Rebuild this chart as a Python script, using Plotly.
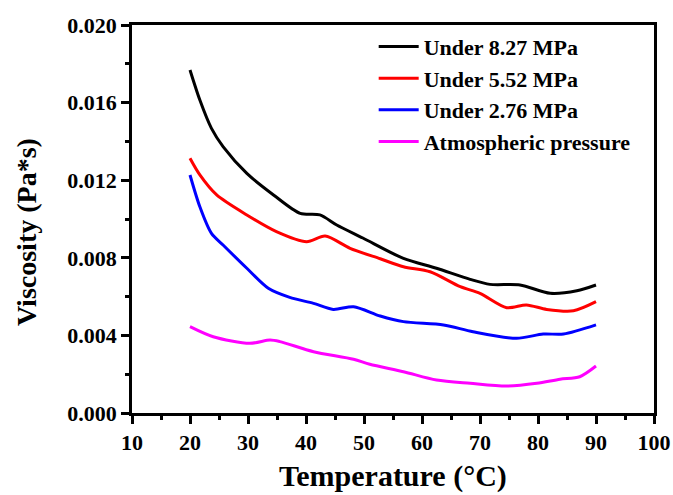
import plotly.graph_objects as go

# Data
t_827 = [20, 21.7, 23.7, 25.7, 29.8, 34.4, 39, 42.4, 45.3, 49.8, 56.8, 62.5, 68.3, 71.7, 76.9, 82.1, 86.7, 90]
v_827 = [0.01768, 0.01613, 0.01467, 0.01373, 0.01235, 0.01124, 0.01029, 0.01021, 0.00969, 0.00902,
         0.00797, 0.00746, 0.00689, 0.00663, 0.0066, 0.00617, 0.0063, 0.0066]

t_552 = [20, 21.7, 24.6, 29.8, 34.9, 40.1, 43.3, 47.6, 52.8, 56.8, 61.4, 66.6, 70, 74.6, 78, 81.5, 86.1, 90]
v_552 = [0.01313, 0.01227, 0.01124, 0.01021, 0.00935, 0.00883, 0.00912, 0.00849, 0.00795, 0.00754,
         0.00728, 0.00651, 0.00617, 0.00543, 0.00557, 0.00534, 0.00527, 0.00574]

t_276 = [20, 21.7, 23.7, 25.7, 29.8, 33.5, 37.2, 41.3, 44.7, 48.2, 52.8, 56.8, 63.7, 68.8, 76.3, 80.9, 84.4, 90]
v_276 = [0.01227, 0.01063, 0.00926, 0.00866, 0.00746, 0.00643, 0.00596, 0.00565, 0.00534, 0.00548,
         0.005, 0.00471, 0.00454, 0.00419, 0.00385, 0.00407, 0.00407, 0.00454]

t_atm = [20, 24, 30.3, 33.8, 35.5, 41.3, 48.2, 51, 56.8, 62.5, 68.3, 74.6, 79.8, 83.8, 87.2, 90]
v_atm = [0.00445, 0.00393, 0.00359, 0.00376, 0.00368, 0.00316, 0.00277, 0.00251, 0.00213, 0.0017,
         0.00153, 0.00139, 0.00153, 0.00174, 0.00187, 0.00242]

series = [
    ("Under 8.27 MPa", t_827, v_827, "#000000"),
    ("Under 5.52 MPa", t_552, v_552, "#ff0000"),
    ("Under 2.76 MPa", t_276, v_276, "#0000ff"),
    ("Atmospheric pressure", t_atm, v_atm, "#ff00ff"),
]

x_ticks = [10, 20, 30, 40, 50, 60, 70, 80, 90, 100]
y_ticks = [0.000, 0.004, 0.008, 0.012, 0.016, 0.020]

x_title = "Temperature (°C)"
y_title = "Viscosity (Pa*s)"

FONT = "Liberation Serif"

fig = go.Figure()
for name, xs, ys, col in series:
    fig.add_trace(go.Scatter(x=xs, y=ys, name=name, mode="lines",
                             line=dict(color=col, width=3, shape="spline", smoothing=0.8)))

fig.update_layout(
    width=673, height=495,
    margin=dict(l=132, r=19, t=25, b=82),
    paper_bgcolor="white", plot_bgcolor="white",
    font=dict(family=FONT, color="black"),
    legend=dict(x=0.463, y=0.998, xanchor="left", yanchor="top",
                font=dict(family=FONT, size=22, color="black", weight="bold"),
                bgcolor="rgba(0,0,0,0)", borderwidth=0, tracegroupgap=0,
                itemwidth=40),
    annotations=[
        dict(text=x_title, xref="paper", yref="paper", x=0.5, y=-0.2075,
             xanchor="center", yanchor="bottom", showarrow=False, borderpad=0,
             font=dict(family=FONT, size=30, color="black", weight="bold")),
        dict(text=y_title, xref="paper", yref="paper", x=-0.201, y=0.4665,
             xanchor="center", yanchor="middle", showarrow=False, textangle=-90,
             font=dict(family=FONT, size=28, color="black", weight="bold")),
    ],
)
fig.update_xaxes(
    range=[10, 100], tickvals=x_ticks, ticktext=[str(v) for v in x_ticks],
    showline=True, linecolor="black", linewidth=2.5, mirror=True,
    ticks="outside", ticklen=8, tickwidth=2.5, tickcolor="black",
    minor=dict(dtick=5, tick0=0, ticks="outside", ticklen=4, tickwidth=2.5, tickcolor="black"),
    showgrid=False, zeroline=False, automargin=False,
    tickfont=dict(family=FONT, size=22, color="black", weight="bold"),
)
fig.update_yaxes(
    range=[0, 0.020], tickvals=y_ticks, ticktext=[f"{v:.3f}" for v in y_ticks],
    showline=True, linecolor="black", linewidth=2.5, mirror=True,
    ticks="outside", ticklen=8, tickwidth=2.5, tickcolor="black",
    minor=dict(dtick=0.002, tick0=0, ticks="outside", ticklen=4, tickwidth=2.5, tickcolor="black"),
    showgrid=False, zeroline=False, automargin=False,
    tickfont=dict(family=FONT, size=22, color="black", weight="bold"),
)

fig.write_html("out.html")
